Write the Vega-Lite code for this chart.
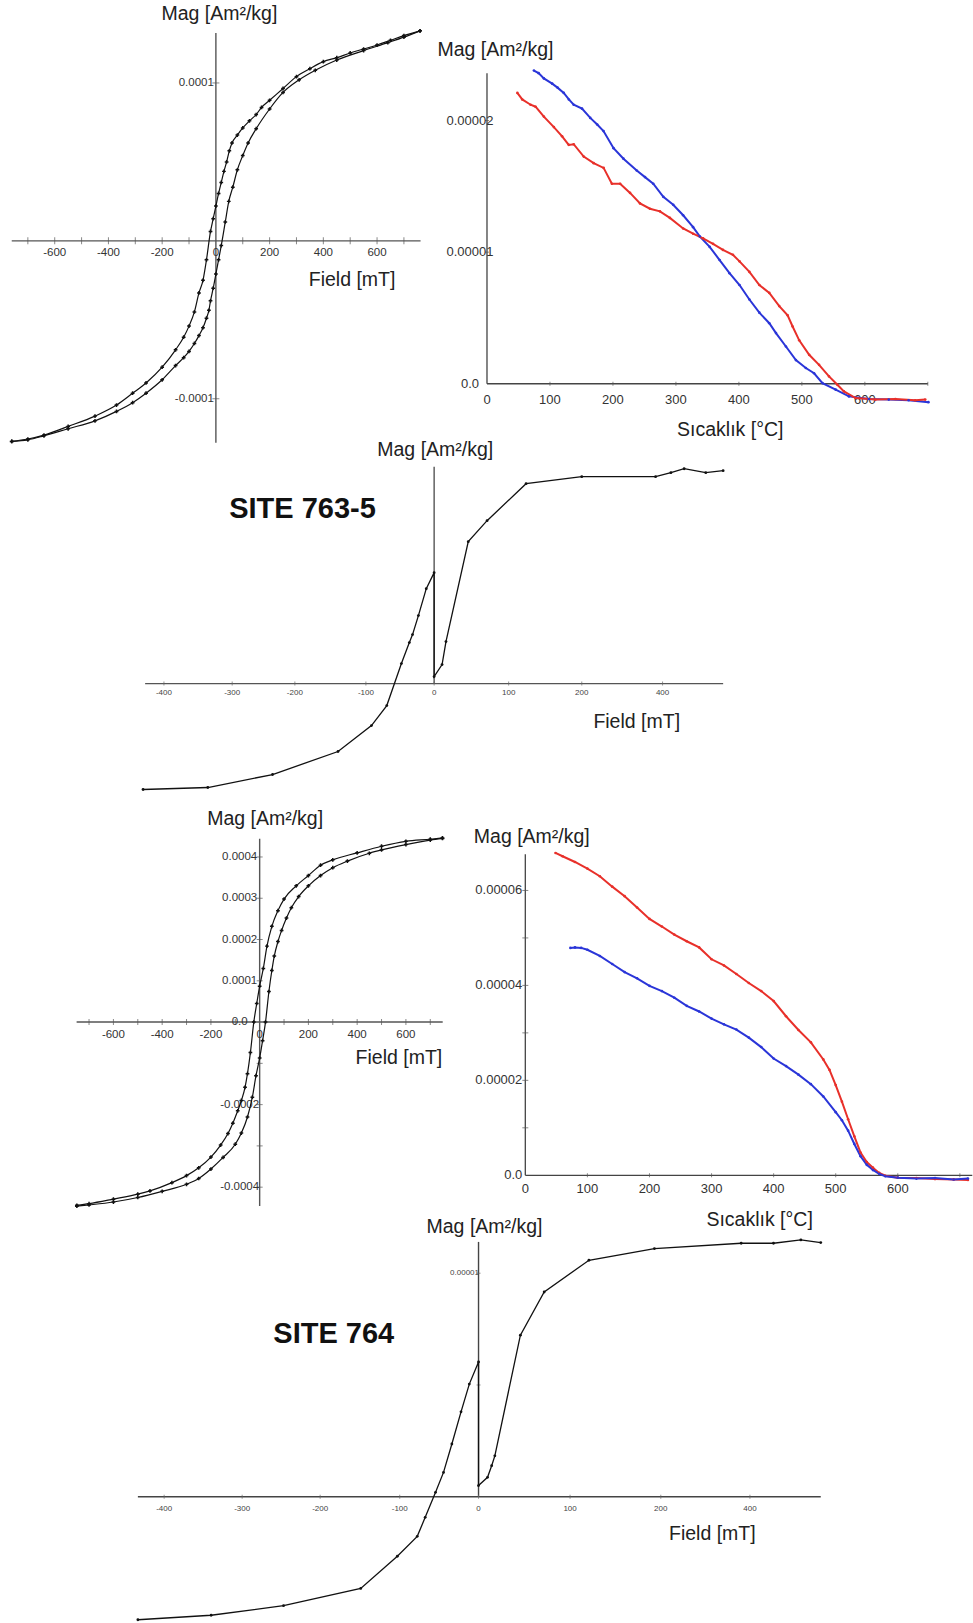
{
  "$schema": "https://vega.github.io/schema/vega-lite/v6.json",
  "width": 973,
  "height": 1623,
  "autosize": {"type": "fit", "contains": "padding"},
  "padding": 0,
  "background": "white",
  "config": {"view": {"stroke": null}},
  "resolve": {"scale": {"x": "independent", "y": "independent"}},
  "datasets": {
    "A_c": [
      {"x":760,"y":1.33e-4,"b":"d"},{"x":700,"y":1.30e-4,"b":"d"},{"x":650,"y":1.27e-4,"b":"d"},{"x":600,"y":1.24e-4,"b":"d"},{"x":550,"y":1.215e-4,"b":"d"},{"x":500,"y":1.19e-4,"b":"d"},{"x":450,"y":1.16e-4,"b":"d"},{"x":400,"y":1.135e-4,"b":"d"},{"x":350,"y":1.09e-4,"b":"d"},{"x":300,"y":1.04e-4,"b":"d"},{"x":250,"y":0.965e-4,"b":"d"},{"x":200,"y":0.89e-4,"b":"d"},{"x":170,"y":0.845e-4,"b":"d"},{"x":150,"y":0.80e-4,"b":"d"},{"x":125,"y":0.76e-4,"b":"d"},{"x":100,"y":0.715e-4,"b":"d"},{"x":80,"y":0.67e-4,"b":"d"},{"x":60,"y":0.62e-4,"b":"d"},{"x":50,"y":0.57e-4,"b":"d"},{"x":40,"y":0.50e-4,"b":"d"},{"x":30,"y":0.44e-4,"b":"d"},{"x":20,"y":0.37e-4,"b":"d"},{"x":10,"y":0.30e-4,"b":"d"},{"x":0,"y":0.22e-4,"b":"d"},{"x":-10,"y":0.14e-4,"b":"d"},{"x":-20,"y":0.06e-4,"b":"d"},{"x":-35,"y":-0.12e-4,"b":"d"},{"x":-48,"y":-0.25e-4,"b":"d"},{"x":-63,"y":-0.33e-4,"b":"d"},{"x":-80,"y":-0.45e-4,"b":"d"},{"x":-100,"y":-0.54e-4,"b":"d"},{"x":-120,"y":-0.61e-4,"b":"d"},{"x":-150,"y":-0.69e-4,"b":"d"},{"x":-200,"y":-0.80e-4,"b":"d"},{"x":-260,"y":-0.90e-4,"b":"d"},{"x":-310,"y":-0.965e-4,"b":"d"},{"x":-370,"y":-1.04e-4,"b":"d"},{"x":-450,"y":-1.11e-4,"b":"d"},{"x":-550,"y":-1.175e-4,"b":"d"},{"x":-640,"y":-1.23e-4,"b":"d"},{"x":-700,"y":-1.255e-4,"b":"d"},{"x":-760,"y":-1.27e-4,"b":"d"},
      {"x":-760,"y":-1.27e-4,"b":"a"},{"x":-700,"y":-1.26e-4,"b":"a"},{"x":-640,"y":-1.235e-4,"b":"a"},{"x":-550,"y":-1.19e-4,"b":"a"},{"x":-450,"y":-1.14e-4,"b":"a"},{"x":-370,"y":-1.08e-4,"b":"a"},{"x":-310,"y":-1.025e-4,"b":"a"},{"x":-260,"y":-0.965e-4,"b":"a"},{"x":-200,"y":-0.88e-4,"b":"a"},{"x":-150,"y":-0.79e-4,"b":"a"},{"x":-120,"y":-0.74e-4,"b":"a"},{"x":-100,"y":-0.70e-4,"b":"a"},{"x":-80,"y":-0.65e-4,"b":"a"},{"x":-63,"y":-0.60e-4,"b":"a"},{"x":-48,"y":-0.55e-4,"b":"a"},{"x":-35,"y":-0.49e-4,"b":"a"},{"x":-26,"y":-0.44e-4,"b":"a"},{"x":-20,"y":-0.38e-4,"b":"a"},{"x":-10,"y":-0.30e-4,"b":"a"},{"x":0,"y":-0.21e-4,"b":"a"},{"x":10,"y":-0.12e-4,"b":"a"},{"x":20,"y":-0.03e-4,"b":"a"},{"x":35,"y":0.12e-4,"b":"a"},{"x":48,"y":0.25e-4,"b":"a"},{"x":63,"y":0.34e-4,"b":"a"},{"x":80,"y":0.45e-4,"b":"a"},{"x":100,"y":0.54e-4,"b":"a"},{"x":120,"y":0.62e-4,"b":"a"},{"x":150,"y":0.71e-4,"b":"a"},{"x":200,"y":0.835e-4,"b":"a"},{"x":250,"y":0.94e-4,"b":"a"},{"x":310,"y":1.02e-4,"b":"a"},{"x":370,"y":1.08e-4,"b":"a"},{"x":450,"y":1.145e-4,"b":"a"},{"x":550,"y":1.205e-4,"b":"a"},{"x":640,"y":1.255e-4,"b":"a"},{"x":700,"y":1.29e-4,"b":"a"},{"x":760,"y":1.33e-4,"b":"a"}
    ],
    "A_axes": [{"x":-760,"x2":762,"y":0,"y2":0},{"x":0,"x2":0,"y":-1.278e-4,"y2":1.316e-4}],
    "A_xt": [{"x":-700,"y":0},{"x":-600,"y":0},{"x":-500,"y":0},{"x":-400,"y":0},{"x":-300,"y":0},{"x":-200,"y":0},{"x":-100,"y":0},{"x":100,"y":0},{"x":200,"y":0},{"x":300,"y":0},{"x":400,"y":0},{"x":500,"y":0},{"x":600,"y":0},{"x":700,"y":0}],
    "A_yt": [{"x":0,"y":1e-4},{"x":0,"y":-1e-4}],
    "A_xl": [{"x":-600,"y":0,"t":"-600"},{"x":-400,"y":0,"t":"-400"},{"x":-200,"y":0,"t":"-200"},{"x":0,"y":0,"t":"0"},{"x":200,"y":0,"t":"200"},{"x":400,"y":0,"t":"400"},{"x":600,"y":0,"t":"600"}],
    "A_yl": [{"x":0,"y":1e-4,"t":"0.0001"},{"x":0,"y":-1e-4,"t":"-0.0001"}],
    "A_t": [{"x":13,"y":1.437e-4,"t":"Mag [Am²/kg]"},{"x":507,"y":-2.47e-5,"t":"Field [mT]"}],

    "B_c": [
      {"x":74.5,"y":2.38e-5,"s":"b"},{"x":82,"y":2.36e-5,"s":"b"},{"x":90.3,"y":2.32e-5,"s":"b"},{"x":103.5,"y":2.28e-5,"s":"b"},{"x":112,"y":2.25e-5,"s":"b"},{"x":121.9,"y":2.21e-5,"s":"b"},{"x":130,"y":2.16e-5,"s":"b"},{"x":137.7,"y":2.12e-5,"s":"b"},{"x":150.9,"y":2.09e-5,"s":"b"},{"x":164,"y":2.02e-5,"s":"b"},{"x":175,"y":1.97e-5,"s":"b"},{"x":185,"y":1.92e-5,"s":"b"},{"x":201,"y":1.79e-5,"s":"b"},{"x":216.7,"y":1.71e-5,"s":"b"},{"x":237.8,"y":1.62e-5,"s":"b"},{"x":250.9,"y":1.57e-5,"s":"b"},{"x":264,"y":1.52e-5,"s":"b"},{"x":280,"y":1.42e-5,"s":"b"},{"x":295.7,"y":1.36e-5,"s":"b"},{"x":311.5,"y":1.28e-5,"s":"b"},{"x":327.3,"y":1.19e-5,"s":"b"},{"x":337.8,"y":1.12e-5,"s":"b"},{"x":353.6,"y":1.04e-5,"s":"b"},{"x":369.4,"y":0.94e-5,"s":"b"},{"x":385.1,"y":0.84e-5,"s":"b"},{"x":401,"y":0.75e-5,"s":"b"},{"x":416.7,"y":0.64e-5,"s":"b"},{"x":432.5,"y":0.54e-5,"s":"b"},{"x":448.3,"y":0.46e-5,"s":"b"},{"x":458.9,"y":0.385e-5,"s":"b"},{"x":474.7,"y":0.283e-5,"s":"b"},{"x":490.5,"y":0.18e-5,"s":"b"},{"x":506.3,"y":0.12e-5,"s":"b"},{"x":519.4,"y":0.08e-5,"s":"b"},{"x":532.7,"y":0.005e-5,"s":"b"},{"x":553.7,"y":-0.045e-5,"s":"b"},{"x":574.7,"y":-0.096e-5,"s":"b"},{"x":606.3,"y":-0.116e-5,"s":"b"},{"x":638,"y":-0.12e-5,"s":"b"},{"x":669.5,"y":-0.125e-5,"s":"b"},{"x":701,"y":-0.14e-5,"s":"b"},
      {"x":48.2,"y":2.21e-5,"s":"r"},{"x":56,"y":2.16e-5,"s":"r"},{"x":69.2,"y":2.12e-5,"s":"r"},{"x":77.1,"y":2.105e-5,"s":"r"},{"x":90.3,"y":2.03e-5,"s":"r"},{"x":106.2,"y":1.95e-5,"s":"r"},{"x":119.3,"y":1.88e-5,"s":"r"},{"x":129.8,"y":1.815e-5,"s":"r"},{"x":137.7,"y":1.82e-5,"s":"r"},{"x":153.6,"y":1.726e-5,"s":"r"},{"x":169.4,"y":1.676e-5,"s":"r"},{"x":185.2,"y":1.64e-5,"s":"r"},{"x":198.3,"y":1.52e-5,"s":"r"},{"x":211.4,"y":1.52e-5,"s":"r"},{"x":227.2,"y":1.45e-5,"s":"r"},{"x":243,"y":1.37e-5,"s":"r"},{"x":258.8,"y":1.33e-5,"s":"r"},{"x":274.6,"y":1.31e-5,"s":"r"},{"x":290.4,"y":1.26e-5,"s":"r"},{"x":311.5,"y":1.18e-5,"s":"r"},{"x":327.3,"y":1.14e-5,"s":"r"},{"x":343.1,"y":1.105e-5,"s":"r"},{"x":358.9,"y":1.063e-5,"s":"r"},{"x":374.7,"y":1.017e-5,"s":"r"},{"x":390.5,"y":0.98e-5,"s":"r"},{"x":401,"y":0.93e-5,"s":"r"},{"x":416.7,"y":0.85e-5,"s":"r"},{"x":432.5,"y":0.75e-5,"s":"r"},{"x":448.3,"y":0.69e-5,"s":"r"},{"x":464.1,"y":0.59e-5,"s":"r"},{"x":477.4,"y":0.52e-5,"s":"r"},{"x":485.3,"y":0.435e-5,"s":"r"},{"x":495.8,"y":0.33e-5,"s":"r"},{"x":511.6,"y":0.22e-5,"s":"r"},{"x":527.3,"y":0.144e-5,"s":"r"},{"x":543.1,"y":0.056e-5,"s":"r"},{"x":556.4,"y":-0.008e-5,"s":"r"},{"x":566.8,"y":-0.058e-5,"s":"r"},{"x":585.3,"y":-0.109e-5,"s":"r"},{"x":616.9,"y":-0.12e-5,"s":"r"},{"x":648.5,"y":-0.116e-5,"s":"r"},{"x":680,"y":-0.125e-5,"s":"r"},{"x":695.9,"y":-0.12e-5,"s":"r"}
    ],
    "B_axes": [{"x":0,"x2":700,"y":0,"y2":0},{"x":0,"x2":0,"y":0,"y2":2.36e-5}],
    "B_xt": [{"x":100,"y":0},{"x":200,"y":0},{"x":300,"y":0},{"x":400,"y":0},{"x":500,"y":0},{"x":600,"y":0},{"x":700,"y":0}],
    "B_yt": [{"x":0,"y":1e-5},{"x":0,"y":2e-5}],
    "B_xl": [{"x":0,"y":0,"t":"0"},{"x":100,"y":0,"t":"100"},{"x":200,"y":0,"t":"200"},{"x":300,"y":0,"t":"300"},{"x":400,"y":0,"t":"400"},{"x":500,"y":0,"t":"500"},{"x":600,"y":0,"t":"600"}],
    "B_yl": [{"x":0,"y":0,"t":"0.0"},{"x":0,"y":1e-5,"t":"0.00001"},{"x":0,"y":2e-5,"t":"0.00002"}],
    "B_t": [{"x":13.4,"y":2.536e-5,"t":"Mag [Am²/kg]"},{"x":386.3,"y":-3.49e-6,"t":"Sıcaklık [°C]"}],

    "C_c": [
      {"i":1,"x":-418,"y":-1.06e-5},{"i":2,"x":-325,"y":-1.04e-5},{"i":3,"x":-232,"y":-0.91e-5},{"i":4,"x":-138,"y":-0.68e-5},{"i":5,"x":-90,"y":-0.42e-5},{"i":6,"x":-68,"y":-0.22e-5},{"i":7,"x":-47,"y":0.20e-5},{"i":8,"x":-35.6,"y":0.41e-5},{"i":9,"x":-31,"y":0.49e-5},{"i":10,"x":-22.6,"y":0.68e-5},{"i":11,"x":-11.3,"y":0.95e-5},{"i":12,"x":0,"y":1.11e-5},{"i":13,"x":0,"y":0.07e-5},{"i":14,"x":11.4,"y":0.19e-5},{"i":15,"x":17,"y":0.42e-5},{"i":16,"x":49,"y":1.42e-5},{"i":17,"x":76,"y":1.63e-5},{"i":18,"x":132,"y":2.0e-5},{"i":19,"x":212,"y":2.07e-5},{"i":20,"x":318,"y":2.07e-5},{"i":21,"x":340,"y":2.11e-5},{"i":22,"x":359,"y":2.15e-5},{"i":23,"x":390,"y":2.11e-5},{"i":24,"x":415,"y":2.13e-5}
    ],
    "C_axes": [{"x":-415,"x2":415,"y":0,"y2":0},{"x":0,"x2":0,"y":0,"y2":2.17e-5}],
    "C_xl": [{"x":-388,"y":0,"t":"-400"},{"x":-290,"y":0,"t":"-300"},{"x":-200,"y":0,"t":"-200"},{"x":-98,"y":0,"t":"-100"},{"x":0,"y":0,"t":"0"},{"x":107,"y":0,"t":"100"},{"x":212,"y":0,"t":"200"},{"x":328,"y":0,"t":"400"}],
    "C_t": [{"x":1.6,"y":2.34e-5,"t":"Mag [Am²/kg]"},{"x":290.9,"y":-3.8e-6,"t":"Field [mT]"}],
    "C_site": [{"x":-189,"y":1.75e-5,"t":"SITE 763-5"}],

    "D_c": [
      {"x":750,"y":4.46e-4,"b":"d"},{"x":700,"y":4.43e-4,"b":"d"},{"x":600,"y":4.38e-4,"b":"d"},{"x":500,"y":4.26e-4,"b":"d"},{"x":400,"y":4.10e-4,"b":"d"},{"x":300,"y":3.93e-4,"b":"d"},{"x":250,"y":3.80e-4,"b":"d"},{"x":200,"y":3.55e-4,"b":"d"},{"x":150,"y":3.30e-4,"b":"d"},{"x":100,"y":2.98e-4,"b":"d"},{"x":75,"y":2.70e-4,"b":"d"},{"x":50,"y":2.32e-4,"b":"d"},{"x":30,"y":1.84e-4,"b":"d"},{"x":15,"y":1.30e-4,"b":"d"},{"x":0,"y":0.87e-4,"b":"d"},{"x":-12,"y":0.45e-4,"b":"d"},{"x":-24,"y":0,"b":"d"},{"x":-38,"y":-0.74e-4,"b":"d"},{"x":-50,"y":-1.25e-4,"b":"d"},{"x":-60,"y":-1.58e-4,"b":"d"},{"x":-75,"y":-1.90e-4,"b":"d"},{"x":-90,"y":-2.15e-4,"b":"d"},{"x":-110,"y":-2.45e-4,"b":"d"},{"x":-130,"y":-2.70e-4,"b":"d"},{"x":-160,"y":-2.98e-4,"b":"d"},{"x":-200,"y":-3.27e-4,"b":"d"},{"x":-250,"y":-3.53e-4,"b":"d"},{"x":-300,"y":-3.72e-4,"b":"d"},{"x":-360,"y":-3.89e-4,"b":"d"},{"x":-450,"y":-4.09e-4,"b":"d"},{"x":-500,"y":-4.17e-4,"b":"d"},{"x":-600,"y":-4.29e-4,"b":"d"},{"x":-700,"y":-4.40e-4,"b":"d"},{"x":-750,"y":-4.44e-4,"b":"d"},
      {"x":-750,"y":-4.46e-4,"b":"a"},{"x":-700,"y":-4.43e-4,"b":"a"},{"x":-600,"y":-4.36e-4,"b":"a"},{"x":-500,"y":-4.25e-4,"b":"a"},{"x":-400,"y":-4.10e-4,"b":"a"},{"x":-300,"y":-3.93e-4,"b":"a"},{"x":-250,"y":-3.79e-4,"b":"a"},{"x":-200,"y":-3.56e-4,"b":"a"},{"x":-150,"y":-3.28e-4,"b":"a"},{"x":-100,"y":-2.96e-4,"b":"a"},{"x":-75,"y":-2.69e-4,"b":"a"},{"x":-50,"y":-2.30e-4,"b":"a"},{"x":-30,"y":-1.82e-4,"b":"a"},{"x":-15,"y":-1.30e-4,"b":"a"},{"x":0,"y":-0.87e-4,"b":"a"},{"x":12,"y":-0.45e-4,"b":"a"},{"x":24,"y":0,"b":"a"},{"x":38,"y":0.74e-4,"b":"a"},{"x":50,"y":1.25e-4,"b":"a"},{"x":60,"y":1.60e-4,"b":"a"},{"x":75,"y":1.95e-4,"b":"a"},{"x":90,"y":2.22e-4,"b":"a"},{"x":110,"y":2.52e-4,"b":"a"},{"x":130,"y":2.77e-4,"b":"a"},{"x":160,"y":3.04e-4,"b":"a"},{"x":200,"y":3.30e-4,"b":"a"},{"x":250,"y":3.55e-4,"b":"a"},{"x":300,"y":3.74e-4,"b":"a"},{"x":360,"y":3.90e-4,"b":"a"},{"x":450,"y":4.09e-4,"b":"a"},{"x":500,"y":4.17e-4,"b":"a"},{"x":600,"y":4.30e-4,"b":"a"},{"x":700,"y":4.41e-4,"b":"a"},{"x":750,"y":4.45e-4,"b":"a"}
    ],
    "D_axes": [{"x":-751,"x2":751,"y":0,"y2":0},{"x":0,"x2":0,"y":-4.455e-4,"y2":4.44e-4}],
    "D_xt": [{"x":-700,"y":0},{"x":-600,"y":0},{"x":-500,"y":0},{"x":-400,"y":0},{"x":-300,"y":0},{"x":-200,"y":0},{"x":-100,"y":0},{"x":100,"y":0},{"x":200,"y":0},{"x":300,"y":0},{"x":400,"y":0},{"x":500,"y":0},{"x":600,"y":0},{"x":700,"y":0}],
    "D_yt": [{"x":0,"y":4e-4},{"x":0,"y":3e-4},{"x":0,"y":2e-4},{"x":0,"y":1e-4},{"x":0,"y":-1e-4},{"x":0,"y":-2e-4},{"x":0,"y":-3e-4},{"x":0,"y":-4e-4}],
    "D_xl": [{"x":-600,"y":0,"t":"-600"},{"x":-400,"y":0,"t":"-400"},{"x":-200,"y":0,"t":"-200"},{"x":0,"y":0,"t":"0"},{"x":200,"y":0,"t":"200"},{"x":400,"y":0,"t":"400"},{"x":600,"y":0,"t":"600"}],
    "D_yl": [{"x":0,"y":4e-4,"t":"0.0004"},{"x":0,"y":3e-4,"t":"0.0003"},{"x":0,"y":2e-4,"t":"0.0002"},{"x":0,"y":1e-4,"t":"0.0001"},{"x":0,"y":0,"t":"0.0"},{"x":0,"y":-2e-4,"t":"-0.0002"},{"x":0,"y":-4e-4,"t":"-0.0004"}],
    "D_t": [{"x":22.4,"y":4.932e-4,"t":"Mag [Am²/kg]"},{"x":571.4,"y":-8.79e-5,"t":"Field [mT]"}],

    "E_c": [
      {"x":48.6,"y":6.79e-5,"s":"r"},{"x":60,"y":6.72e-5,"s":"r"},{"x":80,"y":6.60e-5,"s":"r"},{"x":100,"y":6.46e-5,"s":"r"},{"x":120,"y":6.30e-5,"s":"r"},{"x":140,"y":6.08e-5,"s":"r"},{"x":160,"y":5.88e-5,"s":"r"},{"x":180,"y":5.64e-5,"s":"r"},{"x":200,"y":5.40e-5,"s":"r"},{"x":220,"y":5.24e-5,"s":"r"},{"x":240,"y":5.07e-5,"s":"r"},{"x":260,"y":4.93e-5,"s":"r"},{"x":280,"y":4.80e-5,"s":"r"},{"x":300,"y":4.55e-5,"s":"r"},{"x":320,"y":4.42e-5,"s":"r"},{"x":340,"y":4.24e-5,"s":"r"},{"x":360,"y":4.05e-5,"s":"r"},{"x":380,"y":3.88e-5,"s":"r"},{"x":400,"y":3.67e-5,"s":"r"},{"x":420,"y":3.35e-5,"s":"r"},{"x":440,"y":3.06e-5,"s":"r"},{"x":460,"y":2.80e-5,"s":"r"},{"x":480,"y":2.44e-5,"s":"r"},{"x":490,"y":2.22e-5,"s":"r"},{"x":500,"y":1.90e-5,"s":"r"},{"x":510,"y":1.55e-5,"s":"r"},{"x":520,"y":1.18e-5,"s":"r"},{"x":530,"y":0.82e-5,"s":"r"},{"x":540,"y":0.48e-5,"s":"r"},{"x":550,"y":0.28e-5,"s":"r"},{"x":560,"y":0.16e-5,"s":"r"},{"x":570,"y":0.05e-5,"s":"r"},{"x":580,"y":-0.01e-5,"s":"r"},{"x":600,"y":-0.05e-5,"s":"r"},{"x":630,"y":-0.06e-5,"s":"r"},{"x":660,"y":-0.08e-5,"s":"r"},{"x":690,"y":-0.09e-5,"s":"r"},{"x":713,"y":-0.10e-5,"s":"r"},
      {"x":72.6,"y":4.79e-5,"s":"b"},{"x":80,"y":4.80e-5,"s":"b"},{"x":90,"y":4.79e-5,"s":"b"},{"x":100,"y":4.75e-5,"s":"b"},{"x":120,"y":4.62e-5,"s":"b"},{"x":140,"y":4.45e-5,"s":"b"},{"x":160,"y":4.28e-5,"s":"b"},{"x":180,"y":4.15e-5,"s":"b"},{"x":200,"y":3.99e-5,"s":"b"},{"x":220,"y":3.88e-5,"s":"b"},{"x":240,"y":3.74e-5,"s":"b"},{"x":260,"y":3.57e-5,"s":"b"},{"x":280,"y":3.45e-5,"s":"b"},{"x":300,"y":3.30e-5,"s":"b"},{"x":320,"y":3.18e-5,"s":"b"},{"x":340,"y":3.07e-5,"s":"b"},{"x":360,"y":2.90e-5,"s":"b"},{"x":380,"y":2.70e-5,"s":"b"},{"x":400,"y":2.46e-5,"s":"b"},{"x":420,"y":2.30e-5,"s":"b"},{"x":440,"y":2.12e-5,"s":"b"},{"x":460,"y":1.92e-5,"s":"b"},{"x":480,"y":1.66e-5,"s":"b"},{"x":500,"y":1.33e-5,"s":"b"},{"x":510,"y":1.16e-5,"s":"b"},{"x":520,"y":0.94e-5,"s":"b"},{"x":530,"y":0.66e-5,"s":"b"},{"x":540,"y":0.40e-5,"s":"b"},{"x":550,"y":0.22e-5,"s":"b"},{"x":560,"y":0.11e-5,"s":"b"},{"x":570,"y":0.03e-5,"s":"b"},{"x":580,"y":-0.02e-5,"s":"b"},{"x":600,"y":-0.05e-5,"s":"b"},{"x":630,"y":-0.07e-5,"s":"b"},{"x":660,"y":-0.06e-5,"s":"b"},{"x":690,"y":-0.09e-5,"s":"b"},{"x":713,"y":-0.07e-5,"s":"b"}
    ],
    "E_axes": [{"x":0,"x2":720,"y":0,"y2":0},{"x":0,"x2":0,"y":0,"y2":6.76e-5}],
    "E_xt": [{"x":100,"y":0},{"x":200,"y":0},{"x":300,"y":0},{"x":400,"y":0},{"x":500,"y":0},{"x":600,"y":0},{"x":700,"y":0}],
    "E_yt": [{"x":0,"y":1e-5},{"x":0,"y":2e-5},{"x":0,"y":3e-5},{"x":0,"y":4e-5},{"x":0,"y":5e-5},{"x":0,"y":6e-5}],
    "E_xl": [{"x":0,"y":0,"t":"0"},{"x":100,"y":0,"t":"100"},{"x":200,"y":0,"t":"200"},{"x":300,"y":0,"t":"300"},{"x":400,"y":0,"t":"400"},{"x":500,"y":0,"t":"500"},{"x":600,"y":0,"t":"600"}],
    "E_yl": [{"x":0,"y":0,"t":"0.0"},{"x":0,"y":2e-5,"t":"0.00002"},{"x":0,"y":4e-5,"t":"0.00004"},{"x":0,"y":6e-5,"t":"0.00006"}],
    "E_t": [{"x":10.4,"y":7.126e-5,"t":"Mag [Am²/kg]"},{"x":377.4,"y":-9.47e-6,"t":"Sıcaklık [°C]"}],

    "F_c": [
      {"i":1,"x":-428,"y":-0.55e-5},{"i":2,"x":-336,"y":-0.53e-5},{"i":3,"x":-245,"y":-0.487e-5},{"i":4,"x":-148,"y":-0.41e-5},{"i":5,"x":-102,"y":-0.266e-5},{"i":6,"x":-77,"y":-0.177e-5},{"i":7,"x":-67,"y":-0.092e-5},{"i":8,"x":-54,"y":0.02e-5},{"i":9,"x":-44,"y":0.109e-5},{"i":10,"x":-33.5,"y":0.236e-5},{"i":11,"x":-22,"y":0.38e-5},{"i":12,"x":-11.6,"y":0.504e-5},{"i":13,"x":0,"y":0.603e-5},{"i":14,"x":0,"y":0.05e-5},{"i":15,"x":11.3,"y":0.087e-5},{"i":16,"x":16.5,"y":0.139e-5},{"i":17,"x":20.5,"y":0.183e-5},{"i":18,"x":52.6,"y":0.723e-5},{"i":19,"x":82.5,"y":0.916e-5},{"i":20,"x":138.7,"y":1.058e-5},{"i":21,"x":221,"y":1.11e-5},{"i":22,"x":330,"y":1.134e-5},{"i":23,"x":370.6,"y":1.134e-5},{"i":24,"x":405,"y":1.149e-5},{"i":25,"x":430,"y":1.137e-5}
    ],
    "F_axes": [{"x":-428,"x2":430,"y":0,"y2":0},{"x":0,"x2":0,"y":0,"y2":1.14e-5}],
    "F_xl": [{"x":-395,"y":0,"t":"-400"},{"x":-297,"y":0,"t":"-300"},{"x":-199,"y":0,"t":"-200"},{"x":-99,"y":0,"t":"-100"},{"x":0,"y":0,"t":"0"},{"x":115,"y":0,"t":"100"},{"x":229,"y":0,"t":"200"},{"x":341,"y":0,"t":"400"}],
    "F_yt": [{"x":0,"y":0.5e-5},{"x":0,"y":1e-5}],
    "F_yl": [{"x":0,"y":1e-5,"t":"0.00001"}],
    "F_t": [{"x":7.5,"y":1.208e-5,"t":"Mag [Am²/kg]"},{"x":293.75,"y":-1.67e-6,"t":"Field [mT]"}],
    "F_site": [{"x":-181.9,"y":7.27e-6,"t":"SITE 764"}]
  },
  "layer": [
    {
      "encoding": {
        "x": {"field": "x", "type": "quantitative", "axis": null, "scale": {"domain": [-803.7, 2800], "nice": false, "zero": false}},
        "y": {"field": "y", "type": "quantitative", "axis": null, "scale": {"domain": [-0.000874684, 0.000152532], "nice": false, "zero": false}}
      },
      "layer": [
        {"data": {"name": "A_axes"}, "mark": {"type": "rule", "color": "#555", "strokeWidth": 1.4}, "encoding": {"x2": {"field": "x2"}, "y2": {"field": "y2"}}},
        {"data": {"name": "A_xt"}, "mark": {"type": "tick", "orient": "vertical", "size": 7, "thickness": 1, "color": "#555"}},
        {"data": {"name": "A_yt"}, "mark": {"type": "tick", "orient": "horizontal", "size": 7, "thickness": 1, "color": "#555"}},
        {"data": {"name": "A_xl"}, "mark": {"type": "text", "dy": 12, "fontSize": 11.5, "font": "Liberation Sans", "color": "#333", "align": "center", "baseline": "middle"}, "encoding": {"text": {"field": "t"}}},
        {"data": {"name": "A_yl"}, "mark": {"type": "text", "dx": -2, "fontSize": 11.5, "font": "Liberation Sans", "color": "#333", "align": "right", "baseline": "middle"}, "encoding": {"text": {"field": "t"}}},
        {"data": {"name": "A_t"}, "mark": {"type": "text", "fontSize": 19.5, "font": "Liberation Sans", "color": "#222", "align": "center", "baseline": "middle"}, "encoding": {"text": {"field": "t"}}},
        {"data": {"name": "A_c"}, "mark": {"type": "line", "color": "#111", "strokeWidth": 1.2, "interpolate": "monotone", "point": {"shape": "cross", "size": 14, "filled": true, "color": "#111"}}, "encoding": {"detail": {"field": "b"}}}
      ]
    },
    {
      "encoding": {
        "x": {"field": "x", "type": "quantitative", "axis": null, "scale": {"domain": [-773.3, 763.8], "nice": false, "zero": false}},
        "y": {"field": "y", "type": "quantitative", "axis": null, "scale": {"domain": [-0.000094077, 0.000029157], "nice": false, "zero": false}}
      },
      "layer": [
        {"data": {"name": "B_axes"}, "mark": {"type": "rule", "color": "#444", "strokeWidth": 1.3}, "encoding": {"x2": {"field": "x2"}, "y2": {"field": "y2"}}},
        {"data": {"name": "B_xt"}, "mark": {"type": "tick", "orient": "vertical", "size": 4, "thickness": 1, "color": "#555"}},
        {"data": {"name": "B_yt"}, "mark": {"type": "tick", "orient": "horizontal", "size": 4, "thickness": 1, "color": "#555"}},
        {"data": {"name": "B_xl"}, "mark": {"type": "text", "dy": 16, "fontSize": 13, "font": "Liberation Sans", "color": "#333", "align": "center", "baseline": "middle"}, "encoding": {"text": {"field": "t"}}},
        {"data": {"name": "B_yl"}, "mark": {"type": "text", "dx": -17, "fontSize": 13, "font": "Liberation Sans", "color": "#333", "align": "center", "baseline": "middle"}, "encoding": {"text": {"field": "t"}}},
        {"data": {"name": "B_t"}, "mark": {"type": "text", "fontSize": 19.5, "font": "Liberation Sans", "color": "#222", "align": "center", "baseline": "middle"}, "encoding": {"text": {"field": "t"}}},
        {"data": {"name": "B_c"}, "mark": {"type": "line", "strokeWidth": 2, "point": {"filled": true, "size": 7}}, "encoding": {"color": {"field": "s", "type": "nominal", "legend": null, "scale": {"domain": ["r", "b"], "range": ["#e8302a", "#2a35d8"]}}}}
      ]
    },
    {
      "encoding": {
        "x": {"field": "x", "type": "quantitative", "axis": null, "scale": {"domain": [-623.4, 766.6], "nice": false, "zero": false}},
        "y": {"field": "y", "type": "quantitative", "axis": null, "scale": {"domain": [-0.0000939, 0.0000684], "nice": false, "zero": false}}
      },
      "layer": [
        {"data": {"name": "C_axes"}, "mark": {"type": "rule", "color": "#555", "strokeWidth": 1.4}, "encoding": {"x2": {"field": "x2"}, "y2": {"field": "y2"}}},
        {"data": {"name": "C_xl"}, "mark": {"type": "tick", "orient": "vertical", "size": 4, "thickness": 1, "color": "#666"}},
        {"data": {"name": "C_xl"}, "mark": {"type": "text", "dy": 9, "fontSize": 8, "font": "Liberation Sans", "color": "#444", "align": "center", "baseline": "middle"}, "encoding": {"text": {"field": "t"}}},
        {"data": {"name": "C_t"}, "mark": {"type": "text", "fontSize": 19.5, "font": "Liberation Sans", "color": "#222", "align": "center", "baseline": "middle"}, "encoding": {"text": {"field": "t"}}},
        {"data": {"name": "C_site"}, "mark": {"type": "text", "fontSize": 29, "fontWeight": "bold", "font": "Liberation Sans", "color": "#111", "align": "center", "baseline": "middle"}, "encoding": {"text": {"field": "t"}}},
        {"data": {"name": "C_c"}, "mark": {"type": "line", "color": "#111", "strokeWidth": 1.3, "point": {"filled": true, "size": 8, "color": "#111"}}, "encoding": {"order": {"field": "i", "type": "quantitative"}}}
      ]
    },
    {
      "encoding": {
        "x": {"field": "x", "type": "quantitative", "axis": null, "scale": {"domain": [-1065.3, 2906.1], "nice": false, "zero": false}},
        "y": {"field": "y", "type": "quantitative", "axis": null, "scale": {"domain": [-0.00145351, 0.00247627], "nice": false, "zero": false}}
      },
      "layer": [
        {"data": {"name": "D_axes"}, "mark": {"type": "rule", "color": "#555", "strokeWidth": 1.4}, "encoding": {"x2": {"field": "x2"}, "y2": {"field": "y2"}}},
        {"data": {"name": "D_xt"}, "mark": {"type": "tick", "orient": "vertical", "size": 6, "thickness": 1, "color": "#555"}},
        {"data": {"name": "D_yt"}, "mark": {"type": "tick", "orient": "horizontal", "size": 6, "thickness": 1, "color": "#555"}},
        {"data": {"name": "D_xl"}, "mark": {"type": "text", "dy": 12.5, "fontSize": 11.5, "font": "Liberation Sans", "color": "#333", "align": "center", "baseline": "middle"}, "encoding": {"text": {"field": "t"}}},
        {"data": {"name": "D_yl"}, "mark": {"type": "text", "dx": -20, "fontSize": 11.5, "font": "Liberation Sans", "color": "#333", "align": "center", "baseline": "middle"}, "encoding": {"text": {"field": "t"}}},
        {"data": {"name": "D_t"}, "mark": {"type": "text", "fontSize": 19.5, "font": "Liberation Sans", "color": "#222", "align": "center", "baseline": "middle"}, "encoding": {"text": {"field": "t"}}},
        {"data": {"name": "D_c"}, "mark": {"type": "line", "color": "#111", "strokeWidth": 1.2, "interpolate": "monotone", "point": {"shape": "cross", "size": 14, "filled": true, "color": "#111"}}, "encoding": {"detail": {"field": "b"}}}
      ]
    },
    {
      "encoding": {
        "x": {"field": "x", "type": "quantitative", "axis": null, "scale": {"domain": [-846.2, 713.1], "nice": false, "zero": false}},
        "y": {"field": "y", "type": "quantitative", "axis": null, "scale": {"domain": [-0.0000941053, 0.000247579], "nice": false, "zero": false}}
      },
      "layer": [
        {"data": {"name": "E_axes"}, "mark": {"type": "rule", "color": "#444", "strokeWidth": 1.3}, "encoding": {"x2": {"field": "x2"}, "y2": {"field": "y2"}}},
        {"data": {"name": "E_xt"}, "mark": {"type": "tick", "orient": "vertical", "size": 4, "thickness": 1, "color": "#555"}},
        {"data": {"name": "E_yt"}, "mark": {"type": "tick", "orient": "horizontal", "size": 6, "thickness": 1, "color": "#555"}},
        {"data": {"name": "E_xl"}, "mark": {"type": "text", "dy": 14, "fontSize": 13, "font": "Liberation Sans", "color": "#333", "align": "center", "baseline": "middle"}, "encoding": {"text": {"field": "t"}}},
        {"data": {"name": "E_yl"}, "mark": {"type": "text", "dx": -3, "fontSize": 13, "font": "Liberation Sans", "color": "#333", "align": "right", "baseline": "middle"}, "encoding": {"text": {"field": "t"}}},
        {"data": {"name": "E_t"}, "mark": {"type": "text", "fontSize": 19.5, "font": "Liberation Sans", "color": "#222", "align": "center", "baseline": "middle"}, "encoding": {"text": {"field": "t"}}},
        {"data": {"name": "E_c"}, "mark": {"type": "line", "strokeWidth": 2, "point": {"filled": true, "size": 7}}, "encoding": {"color": {"field": "s", "type": "nominal", "legend": null, "scale": {"domain": ["r", "b"], "range": ["#e8302a", "#2a35d8"]}}}}
      ]
    },
    {
      "encoding": {
        "x": {"field": "x", "type": "quantitative", "axis": null, "scale": {"domain": [-601.25, 615], "nice": false, "zero": false}},
        "y": {"field": "y", "type": "quantitative", "axis": null, "scale": {"domain": [-0.00000560125, 0.0000669504], "nice": false, "zero": false}}
      },
      "layer": [
        {"data": {"name": "F_axes"}, "mark": {"type": "rule", "color": "#444", "strokeWidth": 1.4}, "encoding": {"x2": {"field": "x2"}, "y2": {"field": "y2"}}},
        {"data": {"name": "F_xl"}, "mark": {"type": "tick", "orient": "vertical", "size": 4, "thickness": 1, "color": "#666"}},
        {"data": {"name": "F_yt"}, "mark": {"type": "tick", "orient": "horizontal", "size": 4, "thickness": 1, "color": "#666"}},
        {"data": {"name": "F_xl"}, "mark": {"type": "text", "dy": 12.5, "fontSize": 8, "font": "Liberation Sans", "color": "#444", "align": "center", "baseline": "middle"}, "encoding": {"text": {"field": "t"}}},
        {"data": {"name": "F_yl"}, "mark": {"type": "text", "dx": -14, "fontSize": 8, "font": "Liberation Sans", "color": "#444", "align": "center", "baseline": "middle"}, "encoding": {"text": {"field": "t"}}},
        {"data": {"name": "F_t"}, "mark": {"type": "text", "fontSize": 19.5, "font": "Liberation Sans", "color": "#222", "align": "center", "baseline": "middle"}, "encoding": {"text": {"field": "t"}}},
        {"data": {"name": "F_site"}, "mark": {"type": "text", "fontSize": 29, "fontWeight": "bold", "font": "Liberation Sans", "color": "#111", "align": "center", "baseline": "middle"}, "encoding": {"text": {"field": "t"}}},
        {"data": {"name": "F_c"}, "mark": {"type": "line", "color": "#111", "strokeWidth": 1.3, "point": {"filled": true, "size": 8, "color": "#111"}}, "encoding": {"order": {"field": "i", "type": "quantitative"}}}
      ]
    }
  ]
}
